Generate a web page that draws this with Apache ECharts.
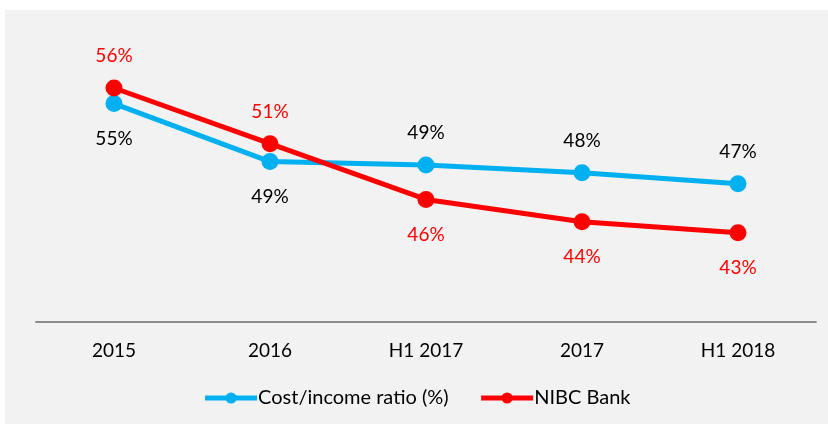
<!DOCTYPE html>
<html>
<head>
<meta charset="utf-8">
<script src="https://cdn.jsdelivr.net/npm/echarts@6/dist/echarts.min.js"></script>
<style>
  html, body { margin: 0; padding: 0; background: #fff; }
  #chart { position: absolute; left: 5px; top: 10px; width: 823px; height: 414px; background: #f2f2f2; }
</style>
</head>
<body>
<div id="chart"></div>
<script>
var categories = ['2015', '2016', 'H1 2017', '2017', 'H1 2018'];
var costIncome = [54.6, 49.4, 49.1, 48.4, 47.4];
var nibcBank = [56, 51, 46, 44, 43];

var chart = echarts.init(document.getElementById('chart'));

// label goes above when this series is the higher one at that point
function buildData(values, other) {
  return values.map(function (v, i) {
    var up = v >= other[i];
    return { value: v, label: { position: up ? 'top' : 'bottom', distance: up ? 14 : 17 } };
  });
}

var font = 'Lato, "Open Sans", sans-serif';

var option = {
  textStyle: { fontFamily: font },
  grid: { left: 31, right: 12, top: 0, bottom: 102 },
  xAxis: {
    type: 'category',
    data: categories,
    axisLine: { lineStyle: { color: '#8c8c8c', width: 2 } },
    axisTick: { show: false },
    axisLabel: { color: '#000', fontSize: 19, margin: 19, fontFamily: font }
  },
  yAxis: {
    type: 'value',
    min: 35,
    max: 63,
    show: false,
    splitLine: { show: false }
  },
  legend: {
    bottom: 11,
    left: 'center',
    itemWidth: 52,
    itemHeight: 14,
    itemGap: 30,
    lineStyle: { width: 5 },
    textStyle: { color: '#000', fontSize: 20, fontFamily: font, padding: [0, 0, 0, -4] },
    data: ['Cost/income ratio (%)', 'NIBC Bank']
  },
  series: [
    {
      name: 'Cost/income ratio (%)',
      type: 'line',
      data: buildData(costIncome, nibcBank),
      symbol: 'circle',
      symbolSize: 17,
      color: '#00b0f0',
      lineStyle: { width: 5 },
      label: {
        show: true,
        color: '#000',
        fontSize: 19,
        fontFamily: font,
        formatter: function (p) { return Math.round(p.value) + '%'; }
      }
    },
    {
      name: 'NIBC Bank',
      type: 'line',
      data: buildData(nibcBank, costIncome),
      symbol: 'circle',
      symbolSize: 17,
      color: '#ff0000',
      lineStyle: { width: 5 },
      label: {
        show: true,
        color: '#ff0000',
        fontSize: 19,
        fontFamily: font,
        formatter: function (p) { return Math.round(p.value) + '%'; }
      }
    }
  ]
};

chart.setOption(option);
</script>
</body>
</html>
